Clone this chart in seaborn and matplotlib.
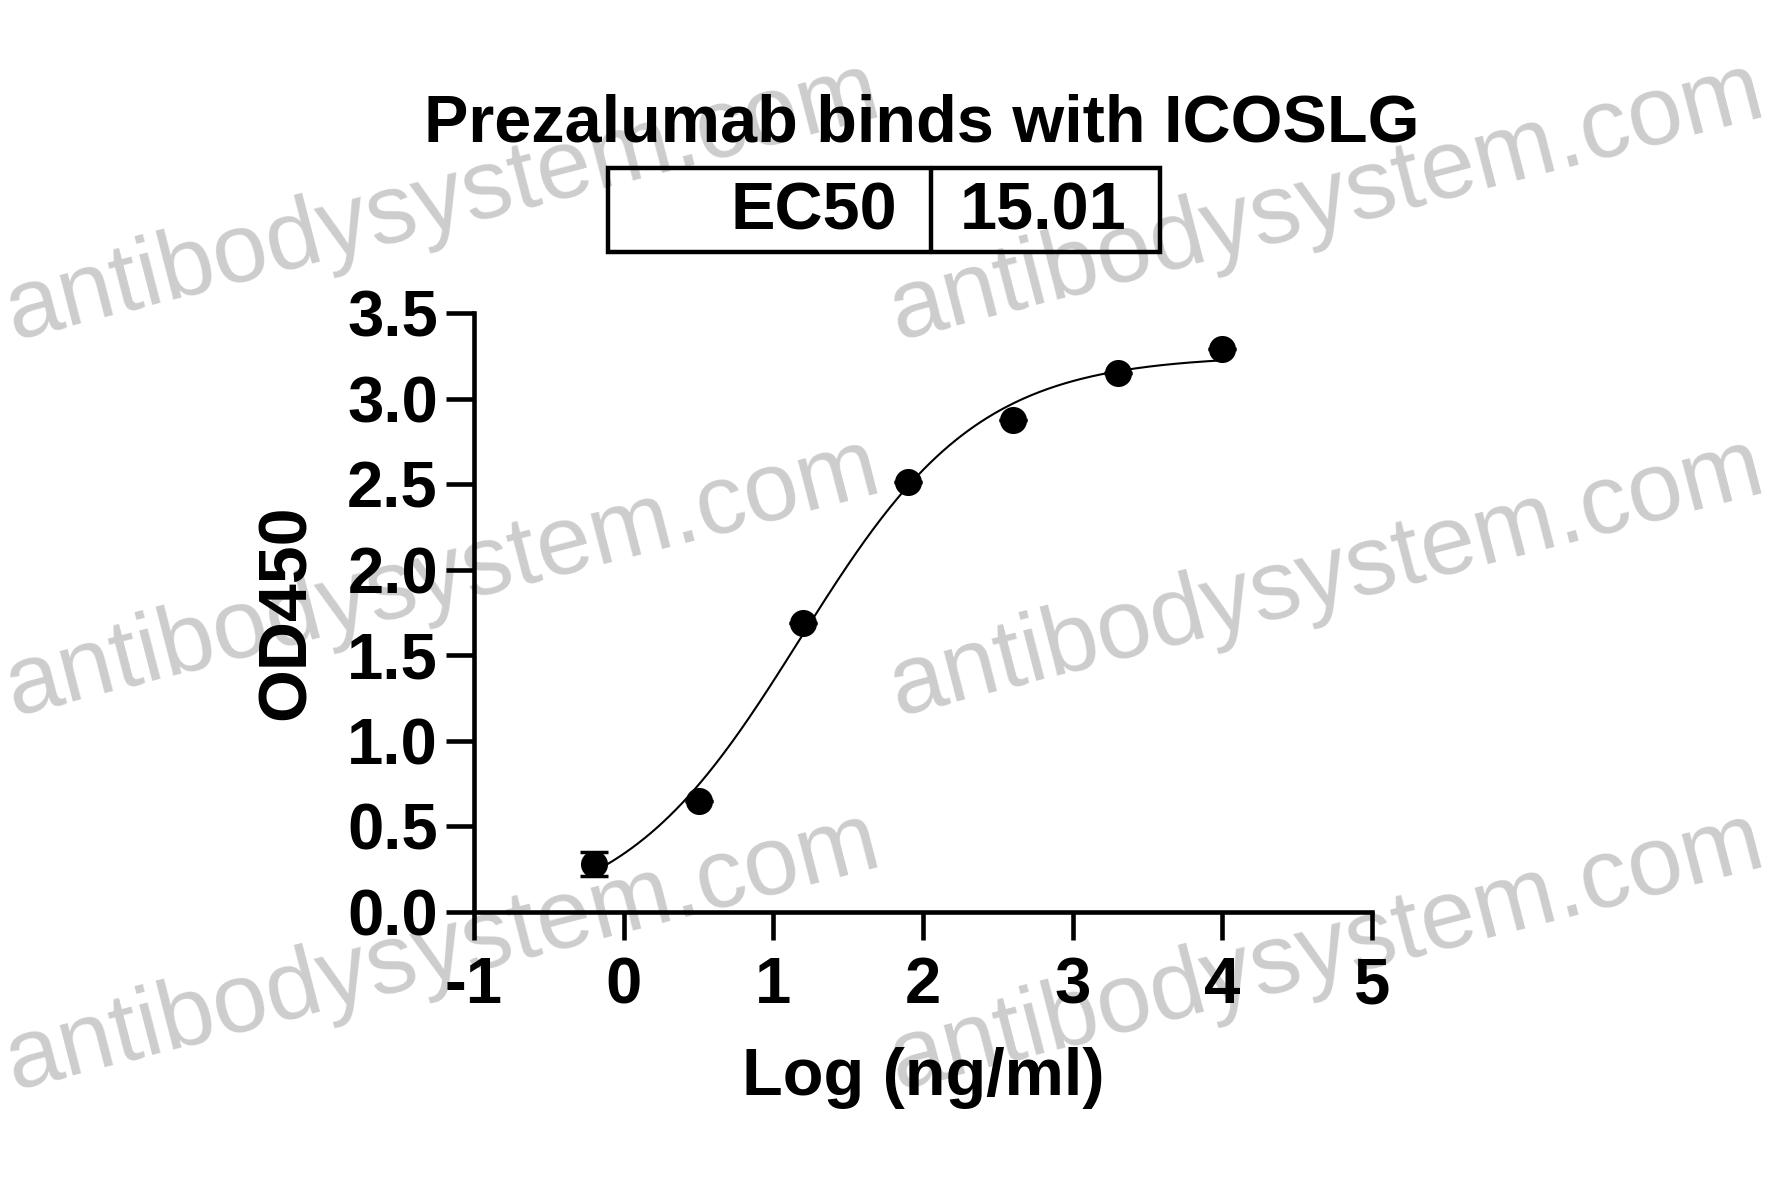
import numpy as np
import pandas as pd
import matplotlib
matplotlib.use('Agg')
import matplotlib.pyplot as plt
import seaborn as sns

# data
log_conc = [-0.2, 0.5, 1.2, 1.9, 2.6, 3.3, 4.0]
od450 = [0.28, 0.65, 1.69, 2.51, 2.875, 3.15, 3.29]
od_err = [0.07, 0.0, 0.0, 0.0, 0.0, 0.0, 0.0]
ec50 = 15.01
x_ticks = [-1, 0, 1, 2, 3, 4, 5]
y_ticks = [0.0, 0.5, 1.0, 1.5, 2.0, 2.5, 3.0, 3.5]
watermark = 'antibodysystem.com'

df = pd.DataFrame({'x': log_conc, 'y': od450, 'err': od_err})

# 4PL fit with EC50 fixed, bottom/top by least squares, hill by grid search
x = np.array(log_conc)
y = np.array(od450)
c = np.log10(ec50)
best = None
for h in np.linspace(0.3, 2.0, 341):
    s = 1 / (1 + 10 ** ((c - x) * h))
    A = np.column_stack([1 - s, s])
    coef, *_ = np.linalg.lstsq(A, y, rcond=None)
    r = np.sum((A @ coef - y) ** 2)
    if best is None or r < best[0]:
        best = (r, h, coef)
_, hill, (bottom, top) = best
xf = np.linspace(x.min(), x.max(), 300)
fit = pd.DataFrame({'x': xf, 'y': bottom + (top - bottom) / (1 + 10 ** ((c - xf) * hill))})

sns.set_style('ticks')
plt.rcParams['font.family'] = ['Liberation Sans', 'DejaVu Sans']
plt.rcParams['font.weight'] = 'bold'
for k in ['text.color', 'axes.labelcolor', 'xtick.color', 'ytick.color', 'axes.edgecolor']:
    plt.rcParams[k] = 'black'

fig = plt.figure(figsize=(17.81, 11.97), dpi=100)
W, H = 1781, 1197
ax = fig.add_axes([474 / W, 1 - 912 / H, (1372 - 474) / W, (912 - 313) / H])

sns.lineplot(data=fit, x='x', y='y', color='black', linewidth=1.5, ax=ax)
ax.errorbar(df['x'], df['y'], yerr=df['err'], fmt='none', ecolor='black',
            elinewidth=2.5, capsize=10, capthick=2.5)
sns.scatterplot(data=df, x='x', y='y', color='black', s=380, edgecolor='black',
                linewidth=0, ax=ax, zorder=3)

ax.set_xlim(-1, 5)
ax.set_ylim(0, 3.5)
ax.set_xticks(x_ticks)
ax.set_xticklabels([str(t) for t in x_ticks])
ax.set_yticks(y_ticks)
ax.set_yticklabels(['%.1f' % t for t in y_ticks])
sns.despine(ax=ax)
for sp in ['left', 'bottom']:
    ax.spines[sp].set_linewidth(3.3)
ax.tick_params(width=3.3, length=20, labelsize=47)
ax.tick_params(axis='x', pad=12)
ax.tick_params(axis='y', pad=6)
for lab in ax.get_xticklabels() + ax.get_yticklabels():
    lab.set_fontweight('bold')
ax.set_xlabel('Log (ng/ml)', fontsize=48, fontweight='bold', labelpad=22)
ax.set_ylabel('OD450', fontsize=49, fontweight='bold', labelpad=20)

# title and EC50 box
fig.text(922 / W, 1 - 142 / H, 'Prezalumab binds with ICOSLG', ha='center',
         va='baseline', fontsize=48, fontweight='bold')
box = plt.Rectangle((608 / W, 1 - 252 / H), (1160 - 608) / W, (252 - 168) / H,
                    transform=fig.transFigure, fill=False, lw=3.2, ec='black')
fig.add_artist(box)
fig.add_artist(plt.Line2D([931 / W, 931 / W], [1 - 168 / H, 1 - 252 / H],
                          transform=fig.transFigure, lw=3.2, color='black'))
fig.text(897 / W, 1 - 230 / H, 'EC50', ha='right', va='baseline', fontsize=48,
         fontweight='bold')
fig.text(1043 / W, 1 - 230 / H, '%.2f' % ec50, ha='center', va='baseline',
         fontsize=48, fontweight='bold')

# watermarks
for wx in [14, 898]:
    for wy in [340, 716, 1090]:
        fig.text(wx / W, 1 - wy / H, watermark, rotation=14.5, rotation_mode='anchor',
                 ha='left', va='baseline', fontsize=71, fontweight='normal',
                 color='black', alpha=0.2, zorder=10)

fig.savefig('out.png', dpi=100)
